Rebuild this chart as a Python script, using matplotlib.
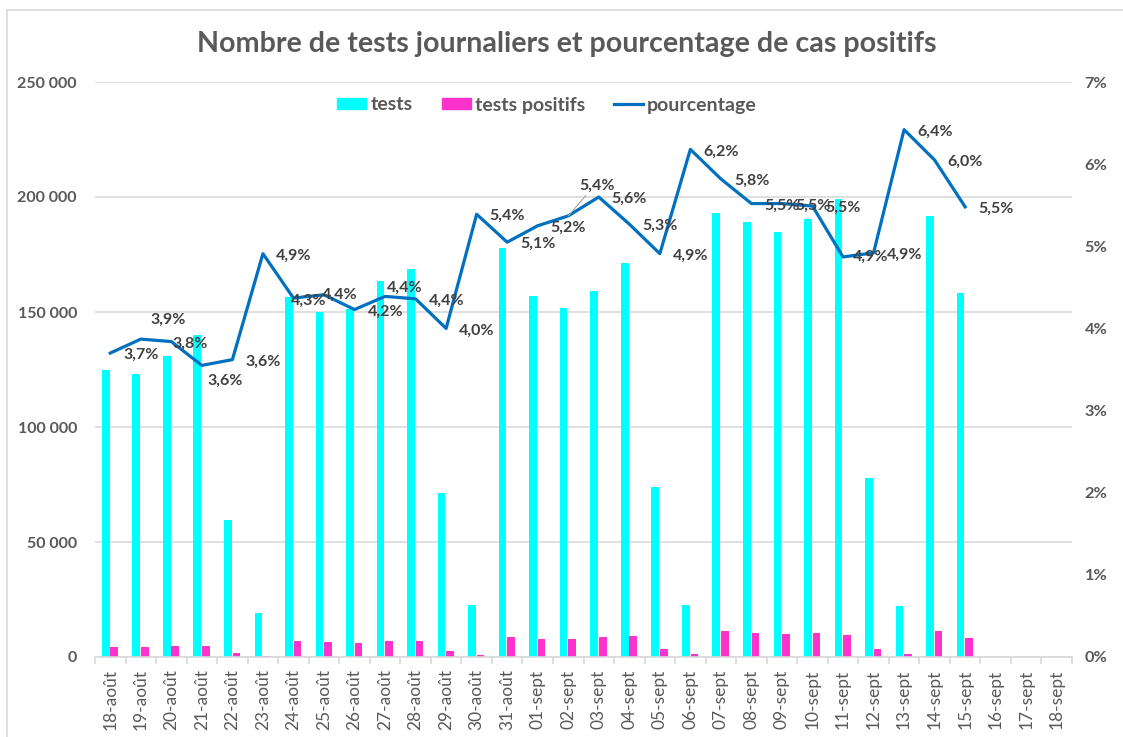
import numpy as np
import matplotlib.pyplot as plt
from matplotlib.lines import Line2D
from matplotlib.patches import Patch
from matplotlib.ticker import FuncFormatter, MultipleLocator

plt.rcParams['font.family'] = ['Lato', 'DejaVu Sans']

# Données
dates = ['18-août', '19-août', '20-août', '21-août', '22-août', '23-août', '24-août',
         '25-août', '26-août', '27-août', '28-août', '29-août', '30-août', '31-août',
         '01-sept', '02-sept', '03-sept', '04-sept', '05-sept', '06-sept', '07-sept',
         '08-sept', '09-sept', '10-sept', '11-sept', '12-sept', '13-sept', '14-sept',
         '15-sept', '16-sept', '17-sept', '18-sept']
tests = [125000, 123000, 131000, 140000, 59600, 19300, 156500, 150000, 151500, 163500,
         168500, 71200, 22600, 178000, 157000, 151700, 159000, 171300, 73900, 22600,
         193000, 189000, 184800, 190400, 199000, 78000, 22300, 191700, 158200]
positifs = [4500, 4500, 4800, 4800, 1900, 600, 6800, 6500, 6100, 7100,
            7100, 2600, 900, 8700, 8000, 8000, 8700, 9000, 3500, 1300,
            11300, 10300, 10000, 10300, 9700, 3500, 1300, 11300, 8400]
pourcentage = [3.70, 3.87, 3.84, 3.55, 3.62, 4.91, 4.37, 4.41, 4.23, 4.39,
               4.36, 4.00, 5.39, 5.05, 5.25, 5.37, 5.60, 5.27, 4.91, 6.18,
               5.82, 5.52, 5.52, 5.49, 4.87, 4.92, 6.42, 6.05, 5.48]
etiquettes = ['3,7%', '3,9%', '3,8%', '3,6%', '3,6%', '4,9%', '4,3%', '4,4%', '4,2%', '4,4%',
              '4,4%', '4,0%', '5,4%', '5,1%', '5,2%', '5,4%', '5,6%', '5,3%', '4,9%', '6,2%',
              '5,8%', '5,5%', '5,5%', '5,5%', '4,9%', '4,9%', '6,4%', '6,0%', '5,5%']

gris = '#595959'
n = len(dates)
x = np.arange(len(tests))

fig = plt.figure(figsize=(11.23, 7.37), dpi=100)
ax = fig.add_axes([95 / 1123, 1 - 657 / 737, 977 / 1123, 575 / 737])
ax2 = ax.twinx()

ax.bar(x - 0.15, tests, width=0.25, color='#00FFFF', zorder=2)
ax.bar(x + 0.13, positifs, width=0.25, color='#FF33CC', zorder=2)

ax2.plot(x, np.array(pourcentage) / 100, color='#0070C0', lw=2.3, zorder=3)

# décalages des étiquettes (pixels)
decal = {1: (10, 19), 2: (1, -2), 3: (6, -15), 6: (-3, -3), 7: (-2, 0),
         9: (2, 9), 15: (11, 30), 24: (10, 0)}
for i, (p, lab) in enumerate(zip(pourcentage, etiquettes)):
    dx, dy = decal.get(i, (13, -2))
    arrow = None
    if i == 15:
        arrow = dict(arrowstyle='-', color='#a6a6a6', lw=0.8, shrinkA=0, shrinkB=0,
                     relpos=(0.25, 0.0))
    ax2.annotate(lab, (i, p / 100), xytext=(dx, dy), textcoords='offset pixels',
                 ha='left', va='center', fontsize=11.5, fontweight='bold', color='#404040',
                 arrowprops=arrow, zorder=4)

ax.set_xlim(-0.5, n - 0.5)
ax.set_ylim(0, 250000)
ax2.set_ylim(0, 0.07)
ax.yaxis.set_major_locator(MultipleLocator(50000))
ax2.yaxis.set_major_locator(MultipleLocator(0.01))
ax.yaxis.set_major_formatter(FuncFormatter(lambda v, p: f'{int(v):,}'.replace(',', ' ')))
ax2.yaxis.set_major_formatter(FuncFormatter(lambda v, p: f'{v * 100:.0f}%'))

ax.grid(axis='y', color='#d9d9d9', lw=1.2, zorder=0)
ax.set_axisbelow(True)

for a in (ax, ax2):
    for s in a.spines.values():
        s.set_visible(False)
ax.spines['bottom'].set_visible(True)
ax.spines['bottom'].set_color('#d9d9d9')
ax.spines['bottom'].set_linewidth(1.2)

ax.set_xticks(np.arange(n))
ax.set_xticklabels(dates, rotation=90, fontsize=12.5, color=gris)
ax.set_xticks(np.arange(n + 1) - 0.5, minor=True)
ax.tick_params(axis='x', which='major', length=0, pad=9)
ax.tick_params(axis='x', which='minor', length=5, color='#d9d9d9', width=1.2)
ax.tick_params(axis='y', length=0, pad=13, labelsize=11.5, labelcolor=gris)
ax2.tick_params(axis='y', length=0, pad=9, labelsize=11.8, labelcolor=gris)
for t in ax.get_yticklabels() + ax2.get_yticklabels():
    t.set_fontweight('bold')

fig.text(567 / 1123, 1 - 44 / 737, 'Nombre de tests journaliers et pourcentage de cas positifs',
         ha='center', va='center', fontsize=20.6, fontweight='bold', color=gris)

handles = [Patch(color='#00FFFF'), Patch(color='#FF33CC'),
           Line2D([], [], color='#0070C0', lw=2.3)]
leg = fig.legend(handles, ['tests', 'tests positifs', 'pourcentage'],
                 loc='center', bbox_to_anchor=(547 / 1123, 1 - 105 / 737), ncol=3,
                 frameon=False, prop={'size': 14, 'weight': 'bold'},
                 handlelength=1.5, handleheight=0.55, handletextpad=0.2, columnspacing=1.5)
for t in leg.get_texts():
    t.set_color(gris)

# cadre du graphique
fig.add_artist(Line2D([7 / 1123, 1], [1 - 10 / 737] * 2, color='#d9d9d9', lw=1.2))
fig.add_artist(Line2D([7 / 1123] * 2, [0, 1 - 10 / 737], color='#d9d9d9', lw=1.2))

fig.savefig('out.png', dpi=100)
